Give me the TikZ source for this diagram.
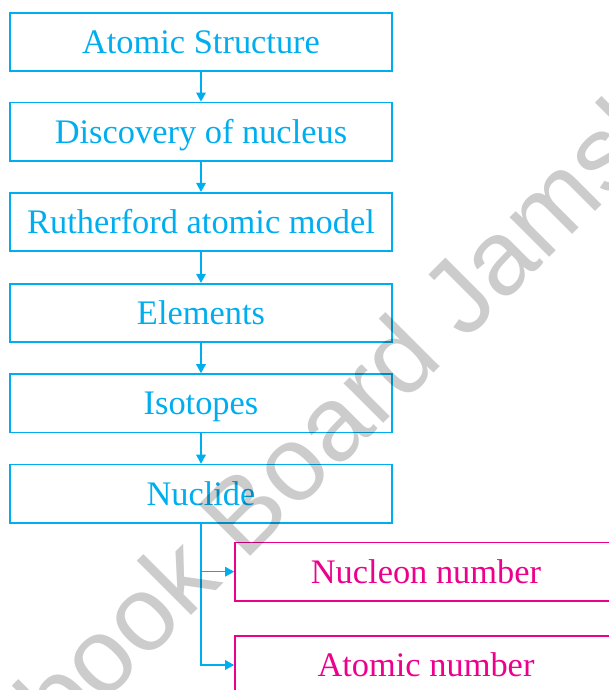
\documentclass[tikz,border=0pt]{standalone}
\usepackage{fontspec}
\setmainfont{Liberation Serif}
\newfontfamily\wmfont{Liberation Sans}
\usetikzlibrary{arrows.meta}
\definecolor{cy}{RGB}{0,174,239}
\definecolor{pk}{RGB}{236,0,140}
\begin{document}
\begin{tikzpicture}[x=1pt,y=1pt,
  boxbase/.style={line width=1.6pt, minimum width=382pt, minimum height=58.5pt, inner sep=0pt,
    font=\fontsize{34.4}{40}\selectfont, text height=22.7pt, text depth=0pt},
  bluebox/.style={boxbase, draw=cy, text=cy},
  pinkbox/.style={boxbase, draw=pk, text=pk},
  conn/.style={draw=cy, line width=1.4pt, -{Triangle[length=9pt,width=9.5pt]}},
  wm/.style={font=\wmfont\fontsize{106}{120}\selectfont, text=black, opacity=0.2, rotate=45, inner sep=0pt}]
\useasboundingbox (0,0) rectangle (609,690);
\clip (0,0) rectangle (609,690);
\node[bluebox] (n1) at (201,648) {Atomic Structure};
\node[bluebox] (n2) at (201,558.3) {Discovery of nucleus};
\node[bluebox] (n3) at (201,468) {Rutherford atomic model};
\node[bluebox] (n4) at (201,377) {Elements};
\node[bluebox] (n5) at (201,286.7) {Isotopes};
\node[bluebox] (n6) at (201,196.2) {Nuclide};
\node[pinkbox] (p1) at (426,118.3) {Nucleon number};
\node[pinkbox] (p2) at (426,25) {Atomic number};
\draw[conn] (n1) -- (n2);
\draw[conn] (n2) -- (n3);
\draw[conn] (n3) -- (n4);
\draw[conn] (n4) -- (n5);
\draw[conn] (n5) -- (n6);
\draw[conn] (n6.south) |- (p2.west);
\draw[conn] (n6.south |- p1.west) -- (p1.west);
\node[wm, anchor=base west] (wmB) at (244.6,127.6) {Board Jamshoro};
\node[wm, anchor=base east] (wmA) at (223.8,106.8) {Textbook};
\end{tikzpicture}
\end{document}
